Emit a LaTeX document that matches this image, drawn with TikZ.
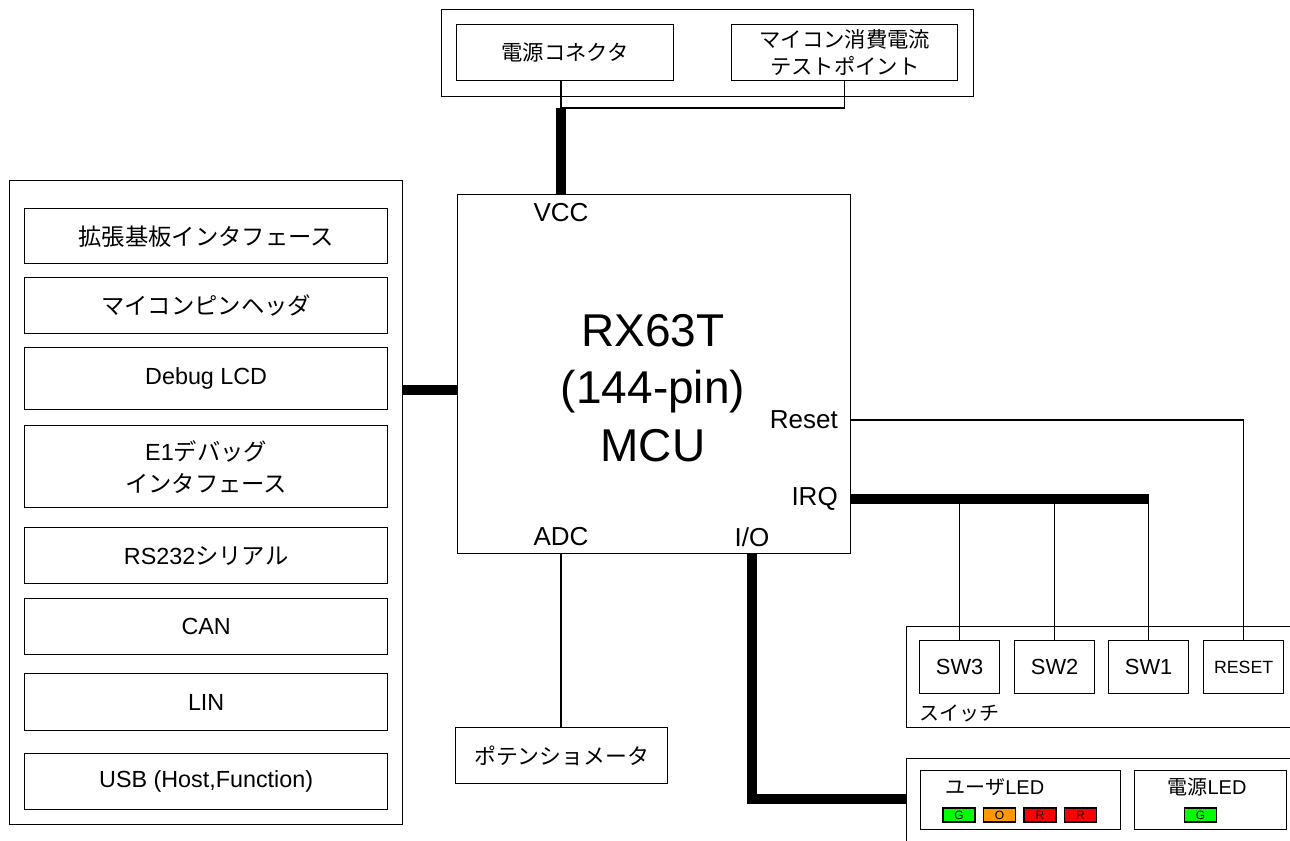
\documentclass[tikz,border=0pt]{standalone}
\usepackage{fontspec}
\setmainfont{Liberation Sans}
\newfontfamily\jp{Noto Sans CJK JP}
\definecolor{ledgreen}{HTML}{00FF00}
\definecolor{ledorange}{HTML}{FF9900}
\definecolor{ledred}{HTML}{FF0000}
\tikzstyle{group} = [rectangle, draw=black, line width=1pt, anchor=north west, inner sep=0pt]
\tikzstyle{block} = [rectangle, draw=black, line width=1pt, anchor=north west, align=center, inner sep=2pt, font=\fontsize{17.5}{24}\selectfont]
\tikzstyle{swbox} = [block, minimum width=60pt, minimum height=39.75pt, font=\fontsize{16.4}{20}\selectfont]
\tikzstyle{pin} = [inner sep=0pt, font=\fontsize{19.5}{24}\selectfont]
\tikzstyle{ledlbl} = [inner sep=0pt, font=\fontsize{15}{18}\selectfont]
\tikzstyle{led} = [rectangle, draw=black, line width=0.8pt, minimum width=24pt, minimum height=10.5pt, inner sep=0pt, font=\fontsize{9}{10}\selectfont]
\tikzstyle{wire} = [line width=1pt]
\tikzstyle{bus} = [line width=7.5pt]

\begin{document}
\begin{tikzpicture}[x=0.75pt, y=-0.75pt]
\clip (0,0) rectangle (1290,841);

% Power supply
\node (pwrgrp) [group, minimum width=399pt, minimum height=65.25pt] at (441,9) {};
\node (conn) [block, minimum width=162.75pt, minimum height=42pt, font=\jp\fontsize{16}{20}\selectfont] at (456,24) {電源コネクタ};
\node (testpt) [block, minimum width=169.5pt, minimum height=42pt, font=\jp\fontsize{16}{20}\selectfont] at (731,24) {マイコン消費電流\\テストポイント};

% MCU
\node (mcu) [group, minimum width=294.75pt, minimum height=269.25pt] at (457,194) {};
\node (mcutitle) [align=center, font=\fontsize{34.5}{43}\selectfont] at (653,388) {RX63T\\(144-pin)\\MCU};
\node (vcclbl) [pin] at (561,213) {VCC};
\node (rstlbl) [pin, anchor=east] at (838,420) {Reset};
\node (irqlbl) [pin, anchor=east] at (838,499) {IRQ};
\node (adclbl) [pin] at (561,537) {ADC};
\node (iolbl) [pin] at (752,537) {I/O};

% Interfaces
\node (leftgrp) [group, minimum width=294.75pt, minimum height=483pt] at (9,180) {};
\node (expif) [block, minimum width=272.25pt, minimum height=41.25pt] at (24,208) {\jp 拡張基板インタフェース};
\node (pinhdr) [block, minimum width=272.25pt, minimum height=42pt] at (24,277) {\jp マイコンピンヘッダ};
\node (lcd) [block, minimum width=272.25pt, minimum height=46.5pt] at (24,347) {Debug LCD};
\node (e1) [block, minimum width=272.25pt, minimum height=61.5pt] at (24,425) {E1{\jp デバッグ}\\{\jp インタフェース}};
\node (rs232) [block, minimum width=272.25pt, minimum height=42pt] at (24,527) {RS232{\jp シリアル}};
\node (can) [block, minimum width=272.25pt, minimum height=42pt] at (24,598) {CAN};
\node (lin) [block, minimum width=272.25pt, minimum height=42.75pt] at (24,673) {LIN};
\node (usb) [block, minimum width=272.25pt, minimum height=42pt] at (24,753) {USB (Host,Function)};

% Potentiometer
\node (pot) [block, minimum width=159pt, minimum height=42pt, font=\jp\fontsize{16.4}{20}\selectfont] at (455,727) {ポテンショメータ};

% Switches
\node (swgrp) [group, minimum width=300pt, minimum height=75.75pt] at (906,626) {};
\node (sw3) [swbox] at (919,640) {SW3};
\node (sw2) [swbox] at (1014,640) {SW2};
\node (sw1) [swbox] at (1108,640) {SW1};
\node (reset) [swbox, font=\fontsize{13.3}{16}\selectfont] at (1203,640) {RESET};
\node (swlbl) [anchor=west, inner sep=0pt, font=\jp\fontsize{15}{18}\selectfont] at (919,713) {スイッチ};

% LEDs
\node (ledgrp) [group, minimum width=300pt, minimum height=80pt] at (906,758) {};
\node (userled) [group, minimum width=150pt, minimum height=44.25pt] at (920,770) {};
\node (userlbl) [ledlbl] at (995,787) {{\jp ユーザ}LED};
\foreach \x/\c/\t [count=\i] in {959/ledgreen/G, 999.5/ledorange/O, 1040/ledred/R, 1080.5/ledred/R}
  \node (uled\i) [led, fill=\c] at (\x,815) {\t};
\node (pwrled) [group, minimum width=114pt, minimum height=44.25pt] at (1134,770) {};
\node (pwrlbl) [ledlbl] at (1207,787) {{\jp 電源}LED};
\node (pled) [led, fill=ledgreen] at (1200.5,815) {G};

% Connections
\coordinate (vccjoin) at (561,108);
\coordinate (lbus) at (0,390);
\coordinate (iobend) at (752,799);
\draw [wire] (conn.south -| vccjoin) -- (vccjoin);
\draw [wire] (testpt.south) |- (vccjoin);
\draw [bus] (vccjoin) -- (vccjoin |- mcu.north);
\draw [bus] (leftgrp.east |- lbus) -- (mcu.west |- lbus);
\draw [wire] (mcu.east |- rstlbl) -| (reset.north);
\draw [bus] (mcu.east |- irqlbl) -- (sw1.north |- irqlbl);
\foreach \s in {sw3, sw2, sw1}
  \draw [wire] (\s.north |- irqlbl) -- (\s.north);
\draw [wire] (adclbl |- mcu.south) -- (pot.north -| adclbl);
\draw [bus] (iolbl |- mcu.south) |- (ledgrp.west |- iobend);

\end{tikzpicture}
\end{document}
